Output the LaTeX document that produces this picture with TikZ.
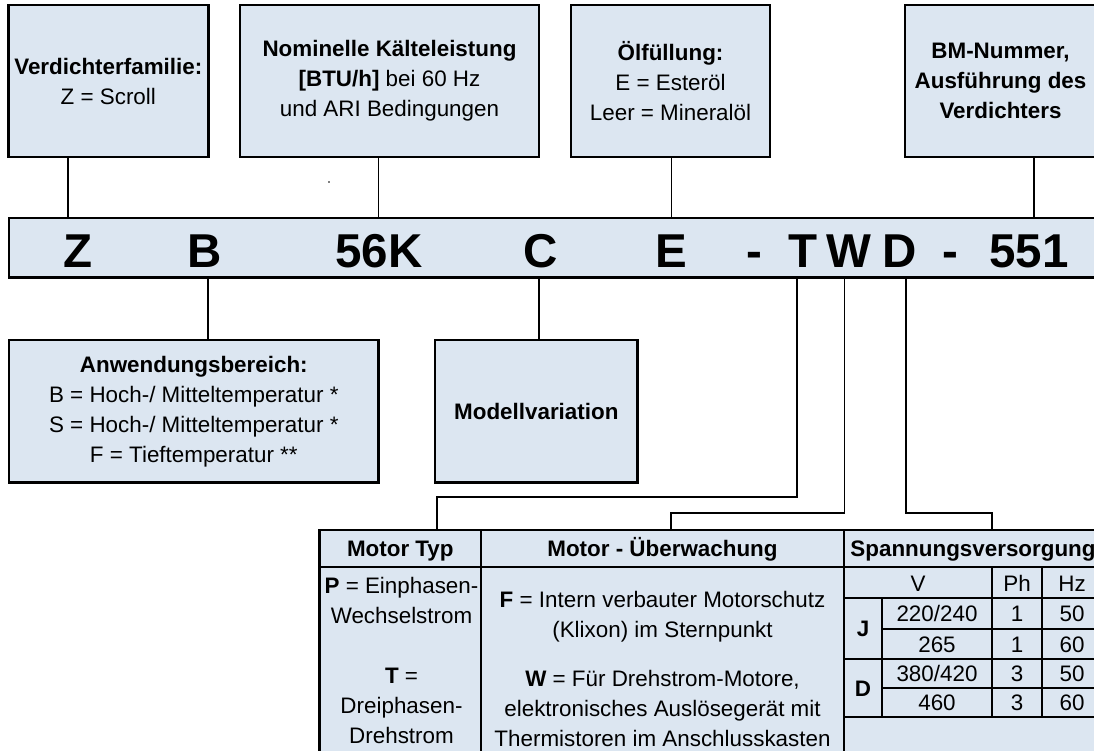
\documentclass[tikz,border=0pt]{standalone}
\usepackage{fontspec}
\setmainfont{Liberation Sans}
\usepackage{tikz}
\definecolor{boxblue}{HTML}{DCE6F1}
\newcommand{\bodyfont}{\fontsize{22.4}{30}\selectfont}
\newcommand{\codefont}{\fontsize{47.5}{47.5}\selectfont\bfseries}

\begin{document}
\begin{tikzpicture}[x=1pt,y=-1pt,
    infobox/.style={draw=black,fill=boxblue,line width=2.8pt,inner sep=0pt,align=center,font=\bodyfont},
    codechar/.style={anchor=base,inner sep=0pt,font=\codefont},
    hcell/.style={draw=black,fill=boxblue,line width=2.6pt,inner sep=0pt,minimum height=37pt,
      text height=16pt,text depth=0pt,font=\bodyfont\bfseries},
    bcell/.style={draw=black,fill=boxblue,line width=2.6pt,inner sep=0pt,minimum height=213pt},
    celltext/.style={inner sep=0pt,align=center,font=\bodyfont},
    subtext/.style={inner sep=0pt,text height=16pt,text depth=0pt,font=\bodyfont},
    subrule/.style={line width=1.3pt},
    link/.style={line width=1.3pt}]
        \useasboundingbox (0,0) rectangle (1094,751);
        \clip (0,0) rectangle (1094,751);
        % boxes above the type code
        \node[infobox,minimum width=200pt,minimum height=152pt] (fam) at (108.3,81)
          {\textbf{Verdichterfamilie:}\\Z = Scroll};
        \node[infobox,minimum width=299pt,minimum height=152pt] (kap) at (389.5,81)
          {\textbf{Nominelle Kälteleistung}\\\textbf{[BTU/h]} bei 60 Hz\\und ARI Bedingungen};
        \node[infobox,minimum width=199pt,minimum height=152pt] (oel) at (670.5,81)
          {\textbf{Ölfüllung:}\\E = Esteröl\\Leer = Mineralöl};
        \node[infobox,minimum width=191pt,minimum height=152pt] (bm) at (1000.5,81)
          {\textbf{BM-Nummer,}\\\textbf{Ausführung des}\\\textbf{Verdichters}};
        \fill[black!50] (327.5,181.5) rectangle (329.5,183.5);
        % the type code
        \node[infobox,minimum width=1093pt,minimum height=59.5pt,line width=2.6pt] (code) at (555.4,247.8) {};
        \foreach \t/\x/\n in {Z/77.6/cZ, B/204.6/cB, 56K/379/cK, C/541/cC, E/671.6/cE,
            -/754.5/cDa, T/803/cT, W/849/cW, D/900/cD, -/950/cDb, 551/1029/cN} {
          \node[codechar] (\n) at (\x,267) {\t};
        }
        \coordinate (tZ) at (68,0);
        \coordinate (tK) at (378.6,0);
        \coordinate (tE) at (671.4,0);
        \coordinate (tN) at (1034,0);
        \coordinate (tB) at (208,0);
        \coordinate (tC) at (539,0);
        \coordinate (tT) at (797,0);
        \coordinate (tW) at (844.6,0);
        \coordinate (tD) at (906,0);
        \foreach \b/\t in {fam/tZ, kap/tK, oel/tE, bm/tN} {
          \draw[link] (\b.south -| \t) -- (code.north -| \t);
        }
        % boxes below the type code
        \node[infobox,minimum width=369.6pt,minimum height=142.7pt] (anw) at (193.8,411.3)
          {\textbf{Anwendungsbereich:}\\B = Hoch-/ Mitteltemperatur *\\S = Hoch-/ Mitteltemperatur *\\F = Tieftemperatur **};
        \node[infobox,minimum width=202.5pt,minimum height=142.7pt] (mod) at (536.3,411.3)
          {\textbf{Modellvariation}};
        \foreach \b/\t in {anw/tB, mod/tC} {
          \draw[link] (code.south -| \t) -- (\b.north -| \t);
        }
        % motor table
        \node[hcell,minimum width=161.4pt] (hTyp) at (400.3,548.5) {Motor Typ};
        \node[hcell,minimum width=363pt] (hUeb) at (662.5,548.5) {Motor - Überwachung};
        \node[hcell,minimum width=258pt] (hSpg) at (973,548.5) {Spannungsversorgung};
        \node[bcell,minimum width=161.4pt] (bTyp) at (400.3,673.5) {};
        \node[bcell,minimum width=363pt] (bUeb) at (662.5,673.5) {};
        \node[bcell,minimum width=258pt] (bSpg) at (973,673.5) {};
        \node[celltext,anchor=north] (txTyp) at (401.5,577)
          {\textbf{P} = Einphasen-\\Wechselstrom\\[30pt]\textbf{T} =\\Dreiphasen-\\Drehstrom};
        \node[celltext,anchor=north] (txUeb) at (662.5,591)
          {\textbf{F} = Intern verbauter Motorschutz\\(Klixon) im Sternpunkt\\[19pt]\textbf{W} = Für Drehstrom-Motore,\\elektronisches Auslösegerät mit\\Thermistoren im Anschlusskasten};
        % supply grid
        \draw[subrule] (844,598) -- (1102,598);
        \draw[subrule] (882,629) -- (1102,629);
        \draw[subrule] (844,659) -- (1102,659);
        \draw[subrule] (882,688) -- (1102,688);
        \draw[subrule] (844,717) -- (1102,717);
        \draw[subrule] (882,598) -- (882,717);
        \draw[subrule] (992,567) -- (992,717);
        \draw[subrule] (1042,567) -- (1042,717);
        \foreach \t/\x/\y [count=\i] in {V/918/583, Ph/1017/583, Hz/1072/583,
            {220/240}/937/613.5, 1/1017/613.5, 50/1072/613.5,
            265/937/644, 1/1017/644, 60/1072/644,
            {380/420}/937/673.5, 3/1017/673.5, 50/1072/673.5,
            460/937/702.5, 3/1017/702.5, 60/1072/702.5} {
          \node[subtext] (s\i) at (\x,\y) {\t};
        }
        \node[subtext,font=\bodyfont\bfseries] (sJ) at (863,628.5) {J};
        \node[subtext,font=\bodyfont\bfseries] (sD) at (863,688.5) {D};
        % links to the table
        \coordinate (kT) at (437,497);
        \coordinate (kW) at (671,513);
        \coordinate (kD) at (992,513);
        \draw[link] (code.south -| tT) |- (kT) -- (kT |- hTyp.north);
        \draw[link] (code.south -| tW) |- (kW) -- (kW |- hUeb.north);
        \draw[link] (code.south -| tD) |- (kD) -- (kD |- hSpg.north);
\end{tikzpicture}
\end{document}
